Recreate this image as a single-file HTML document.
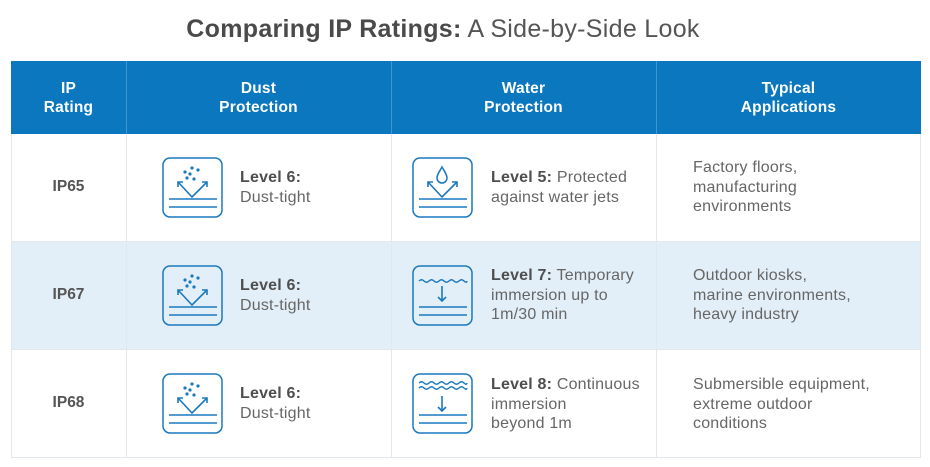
<!DOCTYPE html>
<html><head><meta charset="utf-8"><style>
*{margin:0;padding:0;box-sizing:border-box}
body{width:930px;height:467px;background:#fff;position:relative;overflow:hidden;font-family:"Liberation Sans",sans-serif;color:#555}
.a{position:absolute}
.title{left:0;width:886px;top:15px;text-align:center;font-size:25px;color:#555;letter-spacing:0.3px}
.title b{color:#4a4a4a}
.hdr{left:11px;top:61px;width:910px;height:73px;background:#0a77bf}
.hc{position:absolute;top:61px;height:73px;color:#fff;font-weight:bold;font-size:15.5px;line-height:19px;text-align:center;display:flex;align-items:center;justify-content:center;letter-spacing:0.2px}
.vl{position:absolute;width:1px;background:#e3e8ec}
.hv{position:absolute;width:1px;top:61px;height:73px;background:#3f95cf}
.row{position:absolute;left:11px;width:910px;border-left:1px solid #e3e8ec;border-right:1px solid #e3e8ec;border-bottom:1px solid #e3e8ec}
.ip{position:absolute;left:11px;width:115px;text-align:center;font-weight:bold;font-size:15.5px;color:#555}
.t{position:absolute;font-size:16px;line-height:19.5px;color:#666;letter-spacing:0.2px}
.t b{color:#4e4e4e}
svg.i{position:absolute;width:61px;height:61px}
</style></head><body>
<svg width="0" height="0" style="position:absolute">
<defs>
<g id="box"><rect x="1" y="1" width="59" height="59" rx="7" fill="none" stroke="#1a78bd" stroke-width="1.5"/>
<line x1="7" y1="42" x2="55" y2="42" stroke="#1a78bd" stroke-width="1.6"/>
<line x1="7" y1="50" x2="55" y2="50" stroke="#1a78bd" stroke-width="1.6"/></g>
<g id="v" fill="none" stroke="#1a78bd" stroke-width="1.6"><polyline points="16,25 30,40 45,25"/><polyline points="16,30 16,25 21,25"/><polyline points="40,25 45,25 45,30"/></g>
<g id="dust"><use href="#box"/><use href="#v"/><g fill="#1a78bd"><circle cx="30" cy="11" r="1.6"/><circle cx="23" cy="15" r="1.6"/><circle cx="36" cy="13" r="1.6"/><circle cx="28" cy="17" r="1.6"/><circle cx="25" cy="21" r="1.6"/><circle cx="32" cy="22" r="1.6"/></g></g>
<g id="drop"><use href="#box"/><use href="#v"/><path d="M30 10 C27 15 25 18 25 21 A5 5 0 0 0 35 21 C35 18 33 15 30 10Z" fill="none" stroke="#1a78bd" stroke-width="1.5"/></g>
<path id="wave" d="M7 0 q2.5 -2.5 5 0 t5 0 t5 0 t5 0 t5 0 t5 0 t5 0 t5 0 t5 0 t3 0" fill="none" stroke="#1a78bd" stroke-width="1.4"/>
<g id="arrowd" fill="none" stroke="#1a78bd" stroke-width="1.6"><line x1="30" y1="21" x2="30" y2="36"/><polyline points="26,32 30,36 34,32"/></g>
</defs></svg>

<div class="a title"><b>Comparing IP Ratings:</b> A Side-by-Side Look</div>
<div class="a hdr"></div>
<div class="hv" style="left:126px"></div><div class="hv" style="left:391px"></div><div class="hv" style="left:656px"></div>
<div class="hc" style="left:11px;width:115px">IP<br>Rating</div>
<div class="hc" style="left:126px;width:265px">Dust<br>Protection</div>
<div class="hc" style="left:391px;width:265px">Water<br>Protection</div>
<div class="hc" style="left:656px;width:265px">Typical<br>Applications</div>

<div class="row" style="top:134px;height:108px;background:#fff"></div>
<div class="row" style="top:242px;height:108px;background:#e3eff8"></div>
<div class="row" style="top:350px;height:108px;background:#fff"></div>
<div class="vl" style="left:126px;top:134px;height:323px"></div>
<div class="vl" style="left:391px;top:134px;height:323px"></div>
<div class="vl" style="left:656px;top:134px;height:323px"></div>

<div class="ip" style="top:178px">IP65</div>
<div class="ip" style="top:286px">IP67</div>
<div class="ip" style="top:394px">IP68</div>

<svg class="i" style="left:162px;top:157px" viewBox="0 0 61 61"><use href="#dust"/></svg>
<svg class="i" style="left:162px;top:265px" viewBox="0 0 61 61"><use href="#dust"/></svg>
<svg class="i" style="left:162px;top:373px" viewBox="0 0 61 61"><use href="#dust"/></svg>
<div class="t" style="left:240px;top:168px"><b>Level 6:</b><br>Dust-tight</div>
<div class="t" style="left:240px;top:276px"><b>Level 6:</b><br>Dust-tight</div>
<div class="t" style="left:240px;top:384px"><b>Level 6:</b><br>Dust-tight</div>

<svg class="i" style="left:412px;top:157px" viewBox="0 0 61 61"><use href="#drop"/></svg>
<svg class="i" style="left:412px;top:265px" viewBox="0 0 61 61"><use href="#box"/><use href="#wave" y="16"/><use href="#arrowd"/></svg>
<svg class="i" style="left:412px;top:373px" viewBox="0 0 61 61"><use href="#box"/><use href="#wave" y="10"/><use href="#wave" y="15"/><use href="#arrowd" y="2"/></svg>
<div class="t" style="left:491px;top:168px"><b>Level 5:</b> Protected<br>against water jets</div>
<div class="t" style="left:491px;top:266px"><b>Level 7:</b> Temporary<br>immersion up to<br>1m/30 min</div>
<div class="t" style="left:491px;top:375px"><b>Level 8:</b> Continuous<br>immersion<br>beyond 1m</div>

<div class="t" style="left:693px;top:158px">Factory floors,<br>manufacturing<br>environments</div>
<div class="t" style="left:693px;top:266px">Outdoor kiosks,<br>marine environments,<br>heavy industry</div>
<div class="t" style="left:693px;top:375px">Submersible equipment,<br>extreme outdoor<br>conditions</div>
</body></html>
